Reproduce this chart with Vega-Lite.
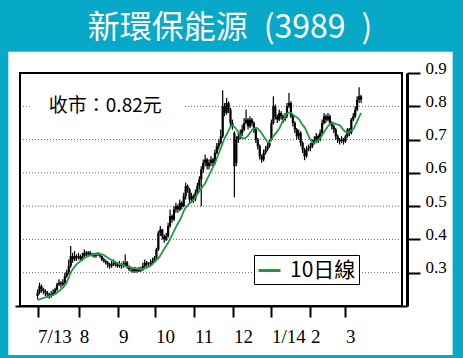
{
"$schema":"https://vega.github.io/schema/vega-lite/v6.json",
"width":392,"height":233,
"autosize":{"type":"none"},
"padding":{"left":15,"top":73,"right":56,"bottom":52},
"background":"#08a8c8",
"title":{"text":"新環保能源\u2002(3989\u2002)","color":"white","fontSize":32,"font":"Noto Sans CJK TC","fontWeight":"normal","anchor":"middle","offset":7,"dx":19},
"config":{"view":{"stroke":null}},
"data":{"values":[
{"d":0,"o":0.23,"h":0.25,"l":0.22,"c":0.24,"m":0.218},
{"d":1,"o":0.24,"h":0.27,"l":0.235,"c":0.26,"m":0.22},
{"d":2,"o":0.26,"h":0.265,"l":0.24,"c":0.25,"m":0.222},
{"d":3,"o":0.25,"h":0.255,"l":0.235,"c":0.245,"m":0.224},
{"d":4,"o":0.245,"h":0.25,"l":0.23,"c":0.24,"m":0.226},
{"d":5,"o":0.24,"h":0.245,"l":0.225,"c":0.235,"m":0.228},
{"d":6,"o":0.235,"h":0.24,"l":0.222,"c":0.23,"m":0.23},
{"d":7,"o":0.23,"h":0.245,"l":0.225,"c":0.235,"m":0.231},
{"d":8,"o":0.235,"h":0.25,"l":0.23,"c":0.24,"m":0.233},
{"d":9,"o":0.24,"h":0.255,"l":0.235,"c":0.25,"m":0.236},
{"d":10,"o":0.25,"h":0.27,"l":0.245,"c":0.265,"m":0.24},
{"d":11,"o":0.265,"h":0.28,"l":0.26,"c":0.27,"m":0.245},
{"d":12,"o":0.27,"h":0.275,"l":0.255,"c":0.265,"m":0.25},
{"d":13,"o":0.265,"h":0.28,"l":0.26,"c":0.27,"m":0.255},
{"d":14,"o":0.27,"h":0.3,"l":0.265,"c":0.29,"m":0.262},
{"d":15,"o":0.29,"h":0.31,"l":0.285,"c":0.3,"m":0.272},
{"d":16,"o":0.3,"h":0.34,"l":0.295,"c":0.32,"m":0.285},
{"d":17,"o":0.32,"h":0.38,"l":0.315,"c":0.35,"m":0.3},
{"d":18,"o":0.35,"h":0.36,"l":0.33,"c":0.34,"m":0.31},
{"d":19,"o":0.34,"h":0.365,"l":0.335,"c":0.35,"m":0.318},
{"d":20,"o":0.35,"h":0.355,"l":0.335,"c":0.345,"m":0.325},
{"d":21,"o":0.345,"h":0.36,"l":0.34,"c":0.35,"m":0.33},
{"d":22,"o":0.35,"h":0.355,"l":0.335,"c":0.34,"m":0.335},
{"d":23,"o":0.34,"h":0.36,"l":0.335,"c":0.35,"m":0.34},
{"d":24,"o":0.35,"h":0.37,"l":0.345,"c":0.36,"m":0.344},
{"d":25,"o":0.36,"h":0.365,"l":0.35,"c":0.355,"m":0.347},
{"d":26,"o":0.355,"h":0.365,"l":0.35,"c":0.36,"m":0.35},
{"d":27,"o":0.36,"h":0.365,"l":0.35,"c":0.355,"m":0.352},
{"d":28,"o":0.355,"h":0.36,"l":0.348,"c":0.355,"m":0.354},
{"d":29,"o":0.355,"h":0.36,"l":0.345,"c":0.35,"m":0.355},
{"d":30,"o":0.35,"h":0.36,"l":0.345,"c":0.355,"m":0.356},
{"d":31,"o":0.355,"h":0.362,"l":0.35,"c":0.355,"m":0.356},
{"d":32,"o":0.355,"h":0.36,"l":0.345,"c":0.35,"m":0.356},
{"d":33,"o":0.35,"h":0.352,"l":0.335,"c":0.34,"m":0.355},
{"d":34,"o":0.34,"h":0.345,"l":0.33,"c":0.335,"m":0.353},
{"d":35,"o":0.335,"h":0.34,"l":0.325,"c":0.33,"m":0.349},
{"d":36,"o":0.33,"h":0.335,"l":0.315,"c":0.325,"m":0.345},
{"d":37,"o":0.325,"h":0.33,"l":0.312,"c":0.32,"m":0.341},
{"d":38,"o":0.32,"h":0.335,"l":0.315,"c":0.325,"m":0.338},
{"d":39,"o":0.325,"h":0.34,"l":0.32,"c":0.33,"m":0.335},
{"d":40,"o":0.33,"h":0.335,"l":0.318,"c":0.325,"m":0.332},
{"d":41,"o":0.325,"h":0.33,"l":0.315,"c":0.32,"m":0.329},
{"d":42,"o":0.32,"h":0.335,"l":0.315,"c":0.325,"m":0.326},
{"d":43,"o":0.325,"h":0.33,"l":0.312,"c":0.32,"m":0.324},
{"d":44,"o":0.32,"h":0.335,"l":0.315,"c":0.325,"m":0.322},
{"d":45,"o":0.325,"h":0.355,"l":0.32,"c":0.33,"m":0.32},
{"d":46,"o":0.33,"h":0.335,"l":0.312,"c":0.32,"m":0.318},
{"d":47,"o":0.32,"h":0.322,"l":0.305,"c":0.31,"m":0.317},
{"d":48,"o":0.31,"h":0.318,"l":0.302,"c":0.31,"m":0.315},
{"d":49,"o":0.31,"h":0.315,"l":0.3,"c":0.305,"m":0.314},
{"d":50,"o":0.305,"h":0.318,"l":0.3,"c":0.31,"m":0.313},
{"d":51,"o":0.31,"h":0.315,"l":0.3,"c":0.305,"m":0.312},
{"d":52,"o":0.305,"h":0.318,"l":0.302,"c":0.31,"m":0.311},
{"d":53,"o":0.31,"h":0.318,"l":0.302,"c":0.31,"m":0.31},
{"d":54,"o":0.31,"h":0.33,"l":0.305,"c":0.32,"m":0.311},
{"d":55,"o":0.32,"h":0.34,"l":0.315,"c":0.33,"m":0.313},
{"d":56,"o":0.33,"h":0.335,"l":0.318,"c":0.325,"m":0.315},
{"d":57,"o":0.325,"h":0.332,"l":0.318,"c":0.325,"m":0.318},
{"d":58,"o":0.325,"h":0.34,"l":0.32,"c":0.33,"m":0.321},
{"d":59,"o":0.33,"h":0.345,"l":0.325,"c":0.335,"m":0.326},
{"d":60,"o":0.335,"h":0.35,"l":0.33,"c":0.345,"m":0.332},
{"d":61,"o":0.345,"h":0.375,"l":0.34,"c":0.37,"m":0.338},
{"d":62,"o":0.37,"h":0.425,"l":0.365,"c":0.42,"m":0.344},
{"d":63,"o":0.42,"h":0.44,"l":0.41,"c":0.43,"m":0.352},
{"d":64,"o":0.43,"h":0.432,"l":0.4,"c":0.41,"m":0.362},
{"d":65,"o":0.41,"h":0.415,"l":0.39,"c":0.4,"m":0.372},
{"d":66,"o":0.4,"h":0.42,"l":0.395,"c":0.41,"m":0.381},
{"d":67,"o":0.41,"h":0.45,"l":0.405,"c":0.44,"m":0.39},
{"d":68,"o":0.44,"h":0.49,"l":0.435,"c":0.47,"m":0.401},
{"d":69,"o":0.47,"h":0.475,"l":0.45,"c":0.46,"m":0.413},
{"d":70,"o":0.46,"h":0.5,"l":0.455,"c":0.49,"m":0.425},
{"d":71,"o":0.49,"h":0.51,"l":0.48,"c":0.5,"m":0.437},
{"d":72,"o":0.5,"h":0.505,"l":0.48,"c":0.49,"m":0.448},
{"d":73,"o":0.49,"h":0.52,"l":0.485,"c":0.51,"m":0.458},
{"d":74,"o":0.51,"h":0.515,"l":0.49,"c":0.5,"m":0.47},
{"d":75,"o":0.5,"h":0.54,"l":0.497,"c":0.53,"m":0.485},
{"d":76,"o":0.53,"h":0.57,"l":0.52,"c":0.56,"m":0.495},
{"d":77,"o":0.56,"h":0.565,"l":0.54,"c":0.55,"m":0.502},
{"d":78,"o":0.55,"h":0.555,"l":0.51,"c":0.52,"m":0.508},
{"d":79,"o":0.52,"h":0.54,"l":0.51,"c":0.53,"m":0.513},
{"d":80,"o":0.53,"h":0.535,"l":0.51,"c":0.52,"m":0.518},
{"d":81,"o":0.52,"h":0.55,"l":0.515,"c":0.54,"m":0.527},
{"d":82,"o":0.54,"h":0.57,"l":0.535,"c":0.56,"m":0.536},
{"d":83,"o":0.56,"h":0.59,"l":0.55,"c":0.58,"m":0.545},
{"d":84,"o":0.58,"h":0.62,"l":0.5,"c":0.61,"m":0.553},
{"d":85,"o":0.61,"h":0.64,"l":0.6,"c":0.63,"m":0.561},
{"d":86,"o":0.63,"h":0.655,"l":0.62,"c":0.64,"m":0.569},
{"d":87,"o":0.64,"h":0.645,"l":0.61,"c":0.62,"m":0.581},
{"d":88,"o":0.62,"h":0.64,"l":0.61,"c":0.63,"m":0.593},
{"d":89,"o":0.63,"h":0.65,"l":0.62,"c":0.64,"m":0.605},
{"d":90,"o":0.64,"h":0.645,"l":0.62,"c":0.63,"m":0.617},
{"d":91,"o":0.63,"h":0.67,"l":0.625,"c":0.66,"m":0.629},
{"d":92,"o":0.66,"h":0.69,"l":0.655,"c":0.68,"m":0.644},
{"d":93,"o":0.68,"h":0.7,"l":0.67,"c":0.69,"m":0.659},
{"d":94,"o":0.69,"h":0.73,"l":0.685,"c":0.71,"m":0.674},
{"d":95,"o":0.71,"h":0.848,"l":0.705,"c":0.8,"m":0.689},
{"d":96,"o":0.8,"h":0.81,"l":0.77,"c":0.78,"m":0.704},
{"d":97,"o":0.78,"h":0.825,"l":0.775,"c":0.81,"m":0.715},
{"d":98,"o":0.81,"h":0.815,"l":0.78,"c":0.79,"m":0.727},
{"d":99,"o":0.79,"h":0.795,"l":0.74,"c":0.75,"m":0.738},
{"d":100,"o":0.75,"h":0.76,"l":0.73,"c":0.74,"m":0.743},
{"d":101,"o":0.72,"h":0.725,"l":0.527,"c":0.62,"m":0.738},
{"d":102,"o":0.63,"h":0.71,"l":0.62,"c":0.7,"m":0.732},
{"d":103,"o":0.7,"h":0.72,"l":0.69,"c":0.71,"m":0.722},
{"d":104,"o":0.71,"h":0.73,"l":0.7,"c":0.72,"m":0.712},
{"d":105,"o":0.72,"h":0.745,"l":0.71,"c":0.73,"m":0.705},
{"d":106,"o":0.73,"h":0.765,"l":0.725,"c":0.75,"m":0.704},
{"d":107,"o":0.75,"h":0.79,"l":0.745,"c":0.76,"m":0.706},
{"d":108,"o":0.76,"h":0.765,"l":0.73,"c":0.74,"m":0.712},
{"d":109,"o":0.74,"h":0.77,"l":0.735,"c":0.76,"m":0.72},
{"d":110,"o":0.76,"h":0.765,"l":0.74,"c":0.75,"m":0.728},
{"d":111,"o":0.75,"h":0.755,"l":0.72,"c":0.73,"m":0.733},
{"d":112,"o":0.73,"h":0.735,"l":0.69,"c":0.7,"m":0.736},
{"d":113,"o":0.7,"h":0.705,"l":0.67,"c":0.68,"m":0.733},
{"d":114,"o":0.68,"h":0.685,"l":0.64,"c":0.65,"m":0.726},
{"d":115,"o":0.65,"h":0.655,"l":0.63,"c":0.64,"m":0.719},
{"d":116,"o":0.64,"h":0.67,"l":0.635,"c":0.66,"m":0.71},
{"d":117,"o":0.66,"h":0.68,"l":0.655,"c":0.67,"m":0.701},
{"d":118,"o":0.67,"h":0.69,"l":0.665,"c":0.68,"m":0.694},
{"d":119,"o":0.68,"h":0.7,"l":0.675,"c":0.69,"m":0.693},
{"d":120,"o":0.7,"h":0.76,"l":0.695,"c":0.75,"m":0.7},
{"d":121,"o":0.75,"h":0.83,"l":0.745,"c":0.8,"m":0.71},
{"d":122,"o":0.8,"h":0.805,"l":0.76,"c":0.77,"m":0.717},
{"d":123,"o":0.77,"h":0.775,"l":0.75,"c":0.76,"m":0.725},
{"d":124,"o":0.76,"h":0.79,"l":0.755,"c":0.78,"m":0.733},
{"d":125,"o":0.78,"h":0.785,"l":0.76,"c":0.77,"m":0.745},
{"d":126,"o":0.77,"h":0.775,"l":0.75,"c":0.76,"m":0.758},
{"d":127,"o":0.76,"h":0.78,"l":0.755,"c":0.77,"m":0.77},
{"d":128,"o":0.77,"h":0.81,"l":0.765,"c":0.8,"m":0.778},
{"d":129,"o":0.8,"h":0.84,"l":0.795,"c":0.81,"m":0.781},
{"d":130,"o":0.81,"h":0.815,"l":0.765,"c":0.77,"m":0.78},
{"d":131,"o":0.77,"h":0.775,"l":0.74,"c":0.75,"m":0.775},
{"d":132,"o":0.75,"h":0.755,"l":0.72,"c":0.73,"m":0.77},
{"d":133,"o":0.73,"h":0.735,"l":0.7,"c":0.71,"m":0.767},
{"d":134,"o":0.71,"h":0.73,"l":0.7,"c":0.72,"m":0.762},
{"d":135,"o":0.72,"h":0.725,"l":0.68,"c":0.69,"m":0.753},
{"d":136,"o":0.69,"h":0.695,"l":0.66,"c":0.67,"m":0.744},
{"d":137,"o":0.67,"h":0.675,"l":0.638,"c":0.65,"m":0.737},
{"d":138,"o":0.65,"h":0.68,"l":0.645,"c":0.67,"m":0.725},
{"d":139,"o":0.67,"h":0.685,"l":0.665,"c":0.675,"m":0.712},
{"d":140,"o":0.675,"h":0.69,"l":0.665,"c":0.68,"m":0.7},
{"d":141,"o":0.68,"h":0.7,"l":0.675,"c":0.69,"m":0.692},
{"d":142,"o":0.69,"h":0.71,"l":0.685,"c":0.7,"m":0.69},
{"d":143,"o":0.7,"h":0.72,"l":0.695,"c":0.71,"m":0.692},
{"d":144,"o":0.71,"h":0.715,"l":0.69,"c":0.7,"m":0.698},
{"d":145,"o":0.7,"h":0.73,"l":0.695,"c":0.72,"m":0.705},
{"d":146,"o":0.72,"h":0.76,"l":0.715,"c":0.75,"m":0.713},
{"d":147,"o":0.75,"h":0.78,"l":0.745,"c":0.77,"m":0.722},
{"d":148,"o":0.77,"h":0.775,"l":0.75,"c":0.76,"m":0.731},
{"d":149,"o":0.76,"h":0.78,"l":0.755,"c":0.77,"m":0.74},
{"d":150,"o":0.77,"h":0.775,"l":0.745,"c":0.75,"m":0.746},
{"d":151,"o":0.75,"h":0.755,"l":0.73,"c":0.74,"m":0.749},
{"d":152,"o":0.74,"h":0.745,"l":0.72,"c":0.73,"m":0.749},
{"d":153,"o":0.73,"h":0.735,"l":0.7,"c":0.71,"m":0.747},
{"d":154,"o":0.71,"h":0.715,"l":0.69,"c":0.7,"m":0.745},
{"d":155,"o":0.7,"h":0.705,"l":0.685,"c":0.695,"m":0.743},
{"d":156,"o":0.695,"h":0.71,"l":0.69,"c":0.7,"m":0.736},
{"d":157,"o":0.7,"h":0.705,"l":0.685,"c":0.695,"m":0.729},
{"d":158,"o":0.695,"h":0.715,"l":0.69,"c":0.71,"m":0.723},
{"d":159,"o":0.71,"h":0.735,"l":0.705,"c":0.73,"m":0.722},
{"d":160,"o":0.73,"h":0.735,"l":0.71,"c":0.72,"m":0.724},
{"d":161,"o":0.72,"h":0.765,"l":0.715,"c":0.76,"m":0.727},
{"d":162,"o":0.76,"h":0.78,"l":0.755,"c":0.77,"m":0.731},
{"d":163,"o":0.77,"h":0.8,"l":0.765,"c":0.79,"m":0.742},
{"d":164,"o":0.79,"h":0.83,"l":0.785,"c":0.82,"m":0.755},
{"d":165,"o":0.82,"h":0.857,"l":0.81,"c":0.83,"m":0.768},
{"d":166,"o":0.83,"h":0.835,"l":0.81,"c":0.82,"m":0.78}
]},
"encoding":{
"x":{"type":"quantitative","scale":{"domain":[-9,187],"nice":false,"zero":false},
 "axis":{"title":null,"zindex":1,"values":[0,21.35,41.5,60.5,80.5,100.5,120,140,158],
  "labelExpr":"datum.value<10?'7/13':datum.value<30?'8':datum.value<50?'9':datum.value<70?'10':datum.value<90?'11':datum.value<110?'12':datum.value<130?'1/14':datum.value<150?'2':'3'",
  "labelAlign":"left","labelBaseline":"top","labelPadding":10,"labelFont":"Liberation Serif","labelFontSize":19,"labelColor":"black","labelFlush":false,"labelOverlap":false,"labelBound":false,
  "tickSize":11,"tickWidth":2,"tickColor":"black","domainColor":"black","domainWidth":2,"grid":false}},
"y":{"type":"quantitative","scale":{"domain":[0.2,0.9],"nice":false,"zero":false},
 "axis":{"title":null,"zindex":1,"orient":"right","values":[0.3,0.4,0.5,0.6,0.7,0.8,0.9],"format":".1f",
  "labelBaseline":"alphabetic","labelPadding":5,"labelFont":"Liberation Serif","labelFontSize":17,"labelColor":"black","labelFlush":false,"labelOverlap":false,"labelBound":false,
  "tickSize":13,"tickWidth":2,"tickColor":"black","domainColor":"black","domainWidth":3,"grid":false}}
},
"layer":[
{"data":{"values":[{"k":1}]},"mark":{"type":"rect","fill":"white","clip":false},
 "encoding":{"x":{"datum":-15},"x2":{"datum":213},"y":{"datum":0.0527},"y2":{"datum":0.9637}}},
{"data":{"values":[{"g":0.3},{"g":0.4},{"g":0.5},{"g":0.6},{"g":0.7},{"g":0.8}]},
 "mark":{"type":"rule","color":"#666666","strokeWidth":1,"strokeDash":[1,2]},
 "encoding":{"y":{"field":"g","type":"quantitative"},"x":{"datum":-9},"x2":{"datum":187}}},
{"data":{"values":[{"k":1}]},"mark":{"type":"rect","fill":"white"},
 "encoding":{"x":{"datum":-4},"x2":{"datum":75},"y":{"datum":0.78},"y2":{"datum":0.825}}},
{"data":{"values":[{"k":1}]},"mark":{"type":"text","text":"收市：0.82元","font":"Noto Sans CJK TC","fontSize":19,"color":"black","align":"center","baseline":"middle"},
 "encoding":{"x":{"datum":34.75},"y":{"datum":0.8}}},
{"mark":{"type":"rule","color":"black","strokeWidth":1.2},
 "encoding":{"x":{"field":"d","type":"quantitative"},"y":{"field":"l","type":"quantitative"},"y2":{"field":"h"}}},
{"mark":{"type":"bar","color":"black","width":2.2},
 "encoding":{"x":{"field":"d","type":"quantitative"},"y":{"field":"o","type":"quantitative"},"y2":{"field":"c"}}},
{"mark":{"type":"line","strokeWidth":1.8,"interpolate":"monotone"},
 "encoding":{"x":{"field":"d","type":"quantitative"},"y":{"field":"m","type":"quantitative"},
  "color":{"datum":"10日線","scale":{"domain":["10日線"],"range":["#1f9a40"]},
   "legend":{"orient":"none","legendX":239,"legendY":182,"title":null,"symbolType":"stroke","symbolSize":484,"symbolStrokeWidth":3,
    "labelFontSize":21,"labelFont":"Noto Sans CJK TC","labelColor":"black","strokeColor":"black","fillColor":"white","padding":3,"labelOffset":8,"zindex":1}}}},
{"data":{"values":[{"k":1}]},"mark":{"type":"rect","fill":null,"stroke":"black","strokeWidth":2},
 "encoding":{"x":{"datum":-9},"x2":{"datum":187},"y":{"datum":0.2},"y2":{"datum":0.9}}}
]
}
